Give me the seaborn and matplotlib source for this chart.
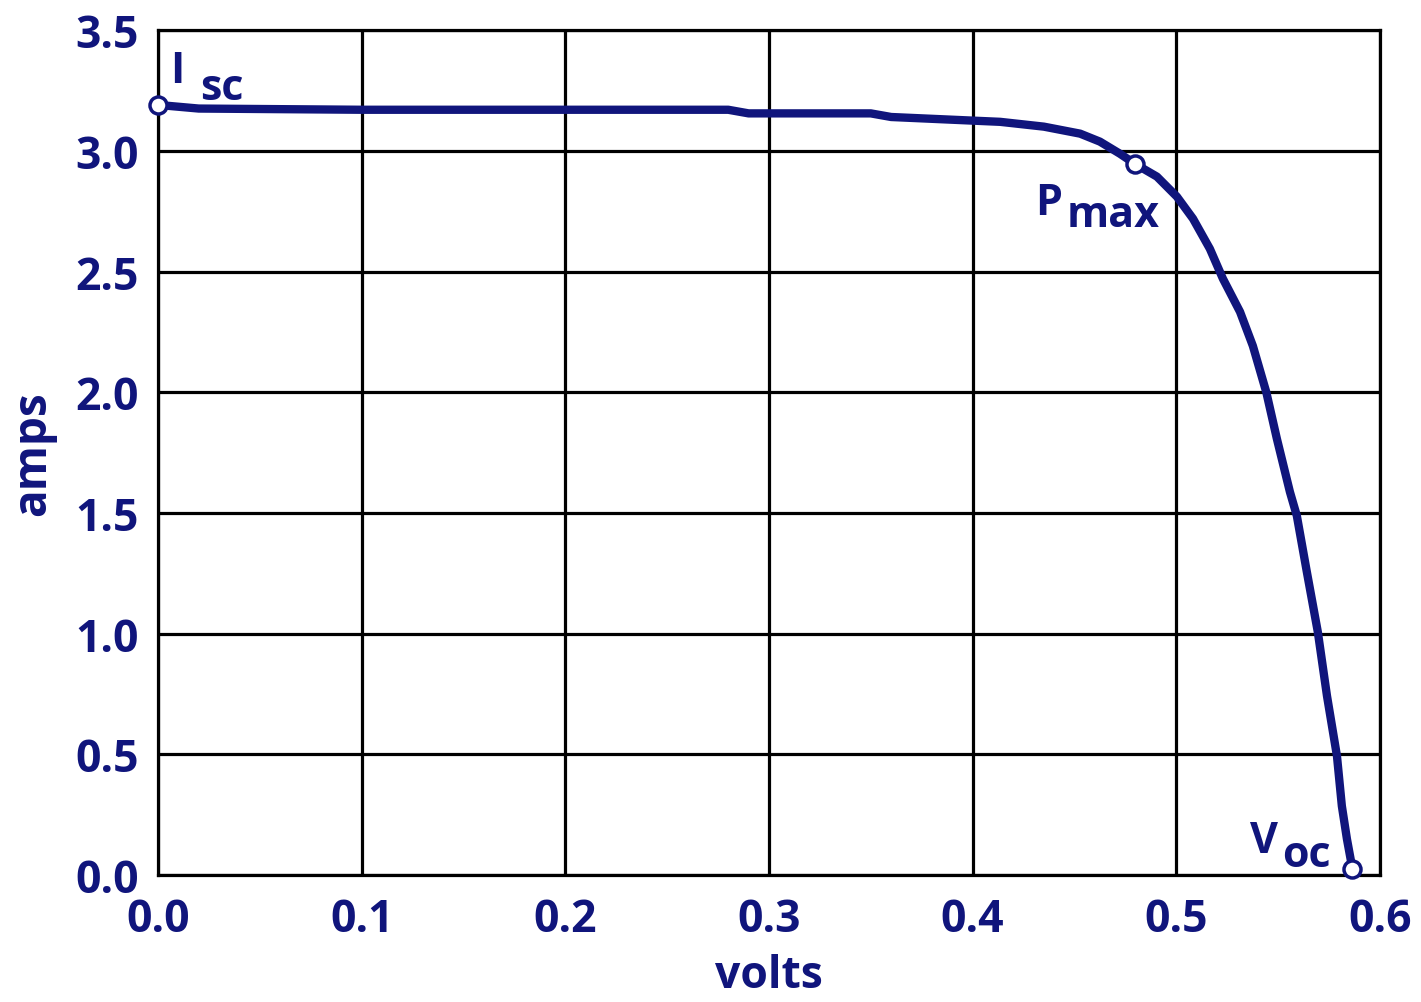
import numpy as np
import pandas as pd
import matplotlib
matplotlib.use("Agg")
import matplotlib.pyplot as plt
import seaborn as sns

# I-V curve of a solar cell
volts = [0.0, 0.02, 0.1, 0.2, 0.28, 0.29, 0.35, 0.36, 0.40, 0.4135, 0.435,
         0.4528, 0.4625, 0.4723, 0.4797, 0.4905, 0.5003, 0.5082, 0.5165,
         0.5229, 0.5313, 0.5376, 0.5442, 0.5494, 0.5558, 0.5592, 0.5641,
         0.5695, 0.574, 0.5789, 0.5813, 0.5838, 0.5865]
amps = [3.19, 3.175, 3.17, 3.17, 3.17, 3.155, 3.155, 3.14, 3.125, 3.12, 3.10,
        3.071, 3.038, 2.988, 2.946, 2.893, 2.81, 2.719, 2.594,
        2.47, 2.333, 2.192, 2.0, 1.807, 1.587, 1.488, 1.256,
        1.007, 0.742, 0.493, 0.286, 0.149, 0.025]

# Isc, Pmax, Voc
key_volts = [0.0, 0.4797, 0.5865]
key_amps = [3.19, 2.946, 0.025]

x_ticks = [0.0, 0.1, 0.2, 0.3, 0.4, 0.5, 0.6]
y_ticks = [0.0, 0.5, 1.0, 1.5, 2.0, 2.5, 3.0, 3.5]

navy = "#10157c"

sns.set_style("white")
plt.rcParams['font.family'] = ['Open Sans', 'DejaVu Sans']

curve_df = pd.DataFrame({'volts': volts, 'amps': amps})
key_df = pd.DataFrame({'volts': key_volts, 'amps': key_amps})

fig = plt.figure(figsize=(14.21, 10.03), dpi=100)
ax = fig.add_axes([0.1112, 0.1266, 0.8599, 0.8424])

sns.lineplot(data=curve_df, x='volts', y='amps', ax=ax, color=navy,
             linewidth=6, estimator=None, sort=True)
ax.lines[-1].set_solid_joinstyle('round')
sns.scatterplot(data=key_df, x='volts', y='amps', ax=ax, s=150,
                color='white', edgecolor=navy, linewidth=2.5, zorder=5)
ax.collections[-1].set_clip_on(False)

ax.set_xlim(0, 0.6)
ax.set_ylim(0, 3.5)
ax.set_xticks(x_ticks)
ax.set_yticks(y_ticks)
ax.set_xticklabels([f"{v:.1f}" for v in x_ticks])
ax.set_yticklabels([f"{v:.1f}" for v in y_ticks])
ax.grid(True, color='black', linewidth=2.3)
ax.set_axisbelow(True)
for sp in ax.spines.values():
    sp.set_color('black')
    sp.set_linewidth(2.3)

ax.tick_params(axis='x', length=0, pad=16, labelsize=32, labelcolor=navy)
ax.tick_params(axis='y', length=0, pad=14, labelsize=32, labelcolor=navy)
for lab in ax.get_xticklabels() + ax.get_yticklabels():
    lab.set_fontweight('bold')

ax.set_xlabel('volts', fontsize=32, fontweight='bold', color=navy)
ax.set_ylabel('amps', fontsize=33, fontweight='bold', color=navy)
ax.xaxis.set_label_coords(0.5, -0.092)
ax.yaxis.set_label_coords(-0.083, 0.5)

# point labels with same-size offset subscripts
txt = dict(fontsize=31, fontweight='bold', color=navy, ha='left', va='baseline')
ax.text(0.0059, 3.286, 'I', **txt)
ax.text(0.0206, 3.216, 'sc', **txt)
ax.text(0.4306, 2.739, 'P', **txt)
ax.text(0.4463, 2.69, 'max', **txt)
ax.text(0.5360, 0.095, 'V', **txt)
ax.text(0.5520, 0.037, 'oc', **txt)

fig.savefig('out.png', dpi=100)
plt.close(fig)
